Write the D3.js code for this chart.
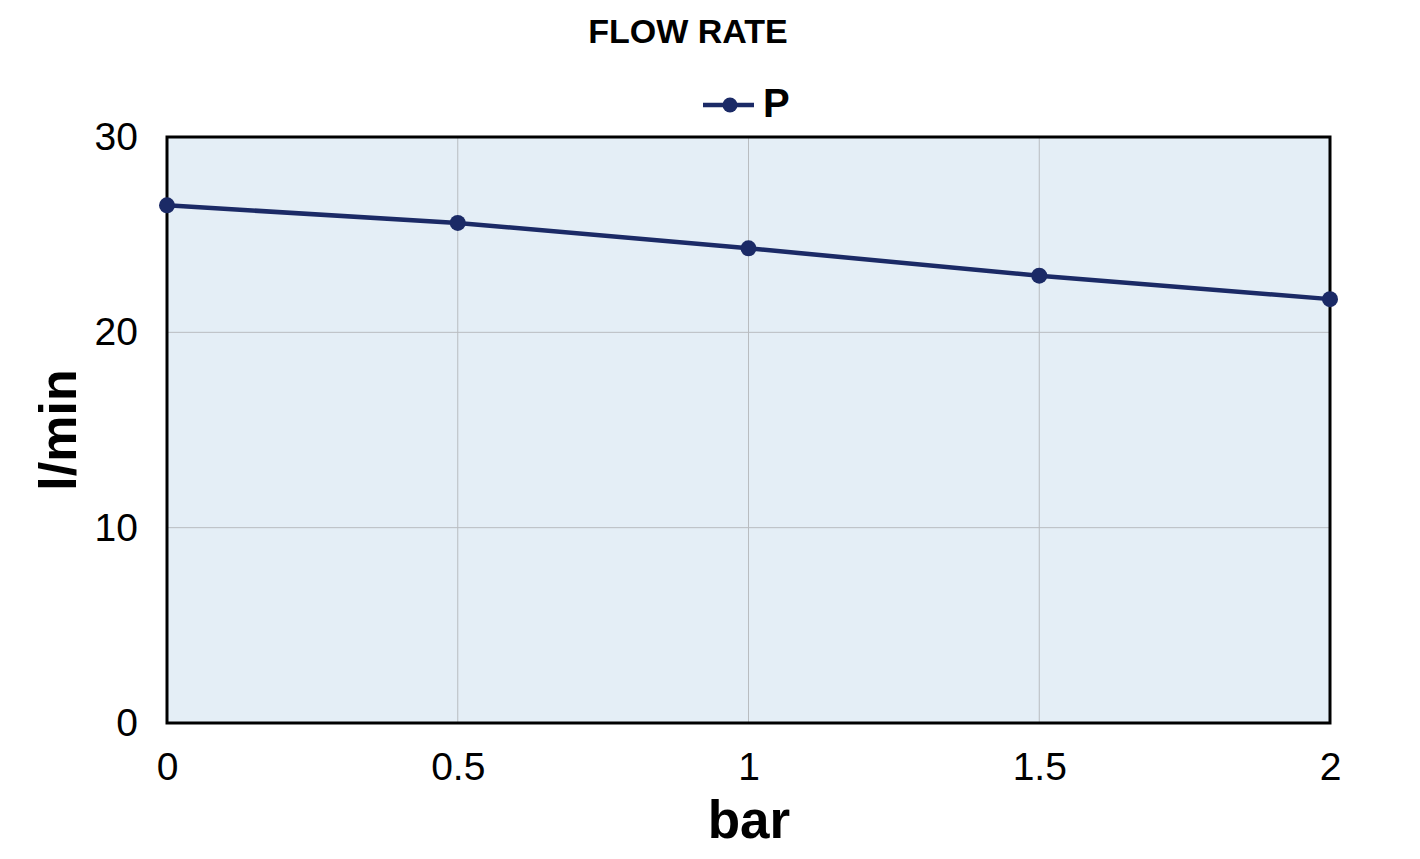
<!DOCTYPE html>
<html>
<head>
<meta charset="utf-8">
<script src="https://cdn.jsdelivr.net/npm/d3@7"></script>
<style>
  html, body { margin: 0; padding: 0; background: #fff; }
  svg { display: block; }
  text { font-family: "Liberation Sans", Arial, sans-serif; fill: #000; }
</style>
</head>
<body>
<svg id="chart" width="1420" height="859"></svg>
<script>
const chartTitle = "FLOW RATE";
const seriesName = "P";
const xLabel = "bar";
const yLabel = "l/min";
const pressures = [0, 0.5, 1, 1.5, 2];
const flowValues = [26.5, 25.6, 24.3, 22.9, 21.7];
const xTicks = [0, 0.5, 1, 1.5, 2];
const yTicks = [0, 10, 20, 30];

const svg = d3.select("#chart");
const margin = { left: 167, right: 90, top: 137, bottom: 136 };
const W = 1420, H = 859;
const x = d3.scaleLinear().domain([0, 2]).range([margin.left, W - margin.right]);
const y = d3.scaleLinear().domain([0, 30]).range([H - margin.bottom, margin.top]);

const lineColor = "#1b2a66";
const tickFont = "39px";

// plot background
svg.append("rect")
  .attr("x", x(0)).attr("y", y(30))
  .attr("width", x(2) - x(0)).attr("height", y(0) - y(30))
  .attr("fill", "#e4eef6");

// gridlines
svg.append("g").selectAll("line").data(xTicks.filter(d => d > 0 && d < 2)).join("line")
  .attr("x1", d => x(d)).attr("x2", d => x(d))
  .attr("y1", y(0)).attr("y2", y(30))
  .attr("stroke", "#b8bcc0").attr("stroke-width", 1);
svg.append("g").selectAll("line").data(yTicks.filter(d => d > 0 && d < 30)).join("line")
  .attr("x1", x(0)).attr("x2", x(2))
  .attr("y1", d => y(d)).attr("y2", d => y(d))
  .attr("stroke", "#b8bcc0").attr("stroke-width", 1);

// axes (labels only)
const xAxis = d3.axisBottom(x).tickValues(xTicks).tickSize(0).tickPadding(29)
  .tickFormat(d => String(d));
const gx = svg.append("g").attr("transform", `translate(0,${y(0)})`).call(xAxis);
gx.select(".domain").remove();
gx.selectAll("text").style("font-size", tickFont).attr("fill", "#000")
  .style("font-family", "'Liberation Sans', Arial, sans-serif");

const yAxis = d3.axisLeft(y).tickValues(yTicks).tickSize(0).tickPadding(29)
  .tickFormat(d => String(d));
const gy = svg.append("g").attr("transform", `translate(${x(0)},0)`).call(yAxis);
gy.select(".domain").remove();
gy.selectAll("text").style("font-size", tickFont).attr("fill", "#000")
  .style("font-family", "'Liberation Sans', Arial, sans-serif");

// frame
svg.append("rect")
  .attr("x", x(0)).attr("y", y(30))
  .attr("width", x(2) - x(0)).attr("height", y(0) - y(30))
  .attr("fill", "none").attr("stroke", "#000").attr("stroke-width", 3);

// series line
const data = pressures.map((p, i) => ({ p, v: flowValues[i] }));
svg.append("path").datum(data)
  .attr("fill", "none").attr("stroke", lineColor).attr("stroke-width", 4.5)
  .attr("d", d3.line().x(d => x(d.p)).y(d => y(d.v)));
svg.append("g").selectAll("circle").data(data).join("circle")
  .attr("cx", d => x(d.p)).attr("cy", d => y(d.v)).attr("r", 8)
  .attr("fill", lineColor);

// title
svg.append("text").attr("x", 688).attr("y", 43)
  .attr("text-anchor", "middle").style("font-size", "34px").style("font-weight", "bold")
  .text(chartTitle);

// legend
const ly = 105;
svg.append("line").attr("x1", 703).attr("x2", 754).attr("y1", ly).attr("y2", ly)
  .attr("stroke", lineColor).attr("stroke-width", 4.5);
svg.append("circle").attr("cx", 730).attr("cy", ly).attr("r", 7.5).attr("fill", lineColor);
svg.append("text").attr("x", 763).attr("y", 117)
  .style("font-size", "40px").style("font-weight", "bold")
  .text(seriesName);

// axis titles
svg.append("text").attr("x", 749).attr("y", 838)
  .attr("text-anchor", "middle").style("font-size", "53px").style("font-weight", "bold")
  .text(xLabel);
svg.append("text")
  .attr("transform", `translate(76,430) rotate(-90)`)
  .attr("text-anchor", "middle").style("font-size", "52px").style("font-weight", "bold")
  .text(yLabel);
</script>
</body>
</html>
